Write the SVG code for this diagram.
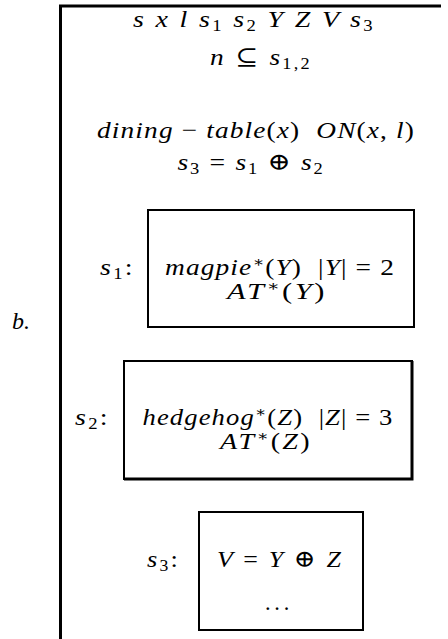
<svg xmlns="http://www.w3.org/2000/svg" width="448" height="639" viewBox="0 0 448 639">
<style>
text{font-family:"Liberation Serif","DejaVu Serif",serif;font-size:24px;fill:#000}
.i{font-style:italic}
.r{font-style:normal}
.sub{font-size:16px;font-style:normal}
.st{font-size:15px;font-style:normal}
.frame{fill:none;stroke:#000;stroke-width:3}
.box{fill:none;stroke:#000;stroke-width:2}
</style>
<rect width="448" height="639" fill="#fff"/>
<g id="frame">
<polyline class="frame" points="441,6 60.5,6 60.5,639"/>
</g>
<g id="label-b"><text class="i" x="12" y="329">b.</text></g>
<g id="header">
<text x="254" y="27" text-anchor="middle" class="i" letter-spacing="2" textLength="242" lengthAdjust="spacingAndGlyphs">s x l s<tspan class="sub" dy="4">1</tspan><tspan dy="-4"> s</tspan><tspan class="sub" dy="4">2</tspan><tspan dy="-4"> Y Z V s</tspan><tspan class="sub" dy="4">3</tspan></text>
<text x="261" y="65" text-anchor="middle" class="i" letter-spacing="2" textLength="102" lengthAdjust="spacingAndGlyphs">n <tspan class="r">⊆</tspan> s<tspan class="sub" dy="4">1,2</tspan></text>
<text x="256" y="138" text-anchor="middle" class="i" letter-spacing="1" textLength="318" lengthAdjust="spacingAndGlyphs" xml:space="preserve">dining <tspan class="r">−</tspan> table<tspan class="r">(</tspan>x<tspan class="r">)</tspan>  ON<tspan class="r">(</tspan>x<tspan class="r">,</tspan> l<tspan class="r">)</tspan></text>
<text x="251" y="170" text-anchor="middle" class="i" letter-spacing="1.5" textLength="147" lengthAdjust="spacingAndGlyphs">s<tspan class="sub" dy="4">3</tspan><tspan class="r" dy="-4"> = </tspan>s<tspan class="sub" dy="4">1</tspan><tspan class="r" dy="-4"> ⊕ </tspan>s<tspan class="sub" dy="4">2</tspan></text>
</g>
<g id="s1">
<text x="100" y="275" class="i" letter-spacing="2" textLength="35" lengthAdjust="spacingAndGlyphs">s<tspan class="sub" dy="4">1</tspan><tspan class="r" dy="-4">:</tspan></text>
<rect class="box" x="148" y="210" width="266" height="117"/>
<text x="280" y="275" text-anchor="middle" class="i" letter-spacing="1" textLength="230" lengthAdjust="spacingAndGlyphs" xml:space="preserve">magpie<tspan class="st" dy="-8">∗</tspan><tspan class="r" dy="8">(</tspan>Y<tspan class="r">)  |</tspan>Y<tspan class="r">| = 2</tspan></text>
<text x="277" y="299" text-anchor="middle" class="i" letter-spacing="2" textLength="100" lengthAdjust="spacingAndGlyphs">AT<tspan class="st" dy="-8">∗</tspan><tspan class="r" dy="8">(</tspan>Y<tspan class="r">)</tspan></text>
</g>
<g id="s2">
<text x="75" y="425" class="i" letter-spacing="2" textLength="35" lengthAdjust="spacingAndGlyphs">s<tspan class="sub" dy="4">2</tspan><tspan class="r" dy="-4">:</tspan></text>
<rect class="box" x="124" y="361" width="288" height="118"/>
<polyline fill="none" stroke="#000" stroke-width="3" points="412,361 412,479 124,479"/>
<text x="268" y="425" text-anchor="middle" class="i" letter-spacing="1" textLength="251" lengthAdjust="spacingAndGlyphs" xml:space="preserve">hedgehog<tspan class="st" dy="-8">∗</tspan><tspan class="r" dy="8">(</tspan>Z<tspan class="r">)  |</tspan>Z<tspan class="r">| = 3</tspan></text>
<text x="266" y="449" text-anchor="middle" class="i" letter-spacing="2" textLength="92" lengthAdjust="spacingAndGlyphs">AT<tspan class="st" dy="-8">∗</tspan><tspan class="r" dy="8">(</tspan>Z<tspan class="r">)</tspan></text>
</g>
<g id="s3">
<text x="147" y="567" class="i" letter-spacing="2" textLength="33" lengthAdjust="spacingAndGlyphs">s<tspan class="sub" dy="4">3</tspan><tspan class="r" dy="-4">:</tspan></text>
<rect class="box" x="199" y="512" width="164" height="118"/>
<text x="280" y="567" text-anchor="middle" class="i" letter-spacing="2" textLength="126" lengthAdjust="spacingAndGlyphs">V <tspan class="r">=</tspan> Y <tspan class="r">⊕</tspan> Z</text>
<text x="279" y="610" text-anchor="middle" class="r" letter-spacing="4" textLength="28" lengthAdjust="spacingAndGlyphs">...</text>
</g>
</svg>
